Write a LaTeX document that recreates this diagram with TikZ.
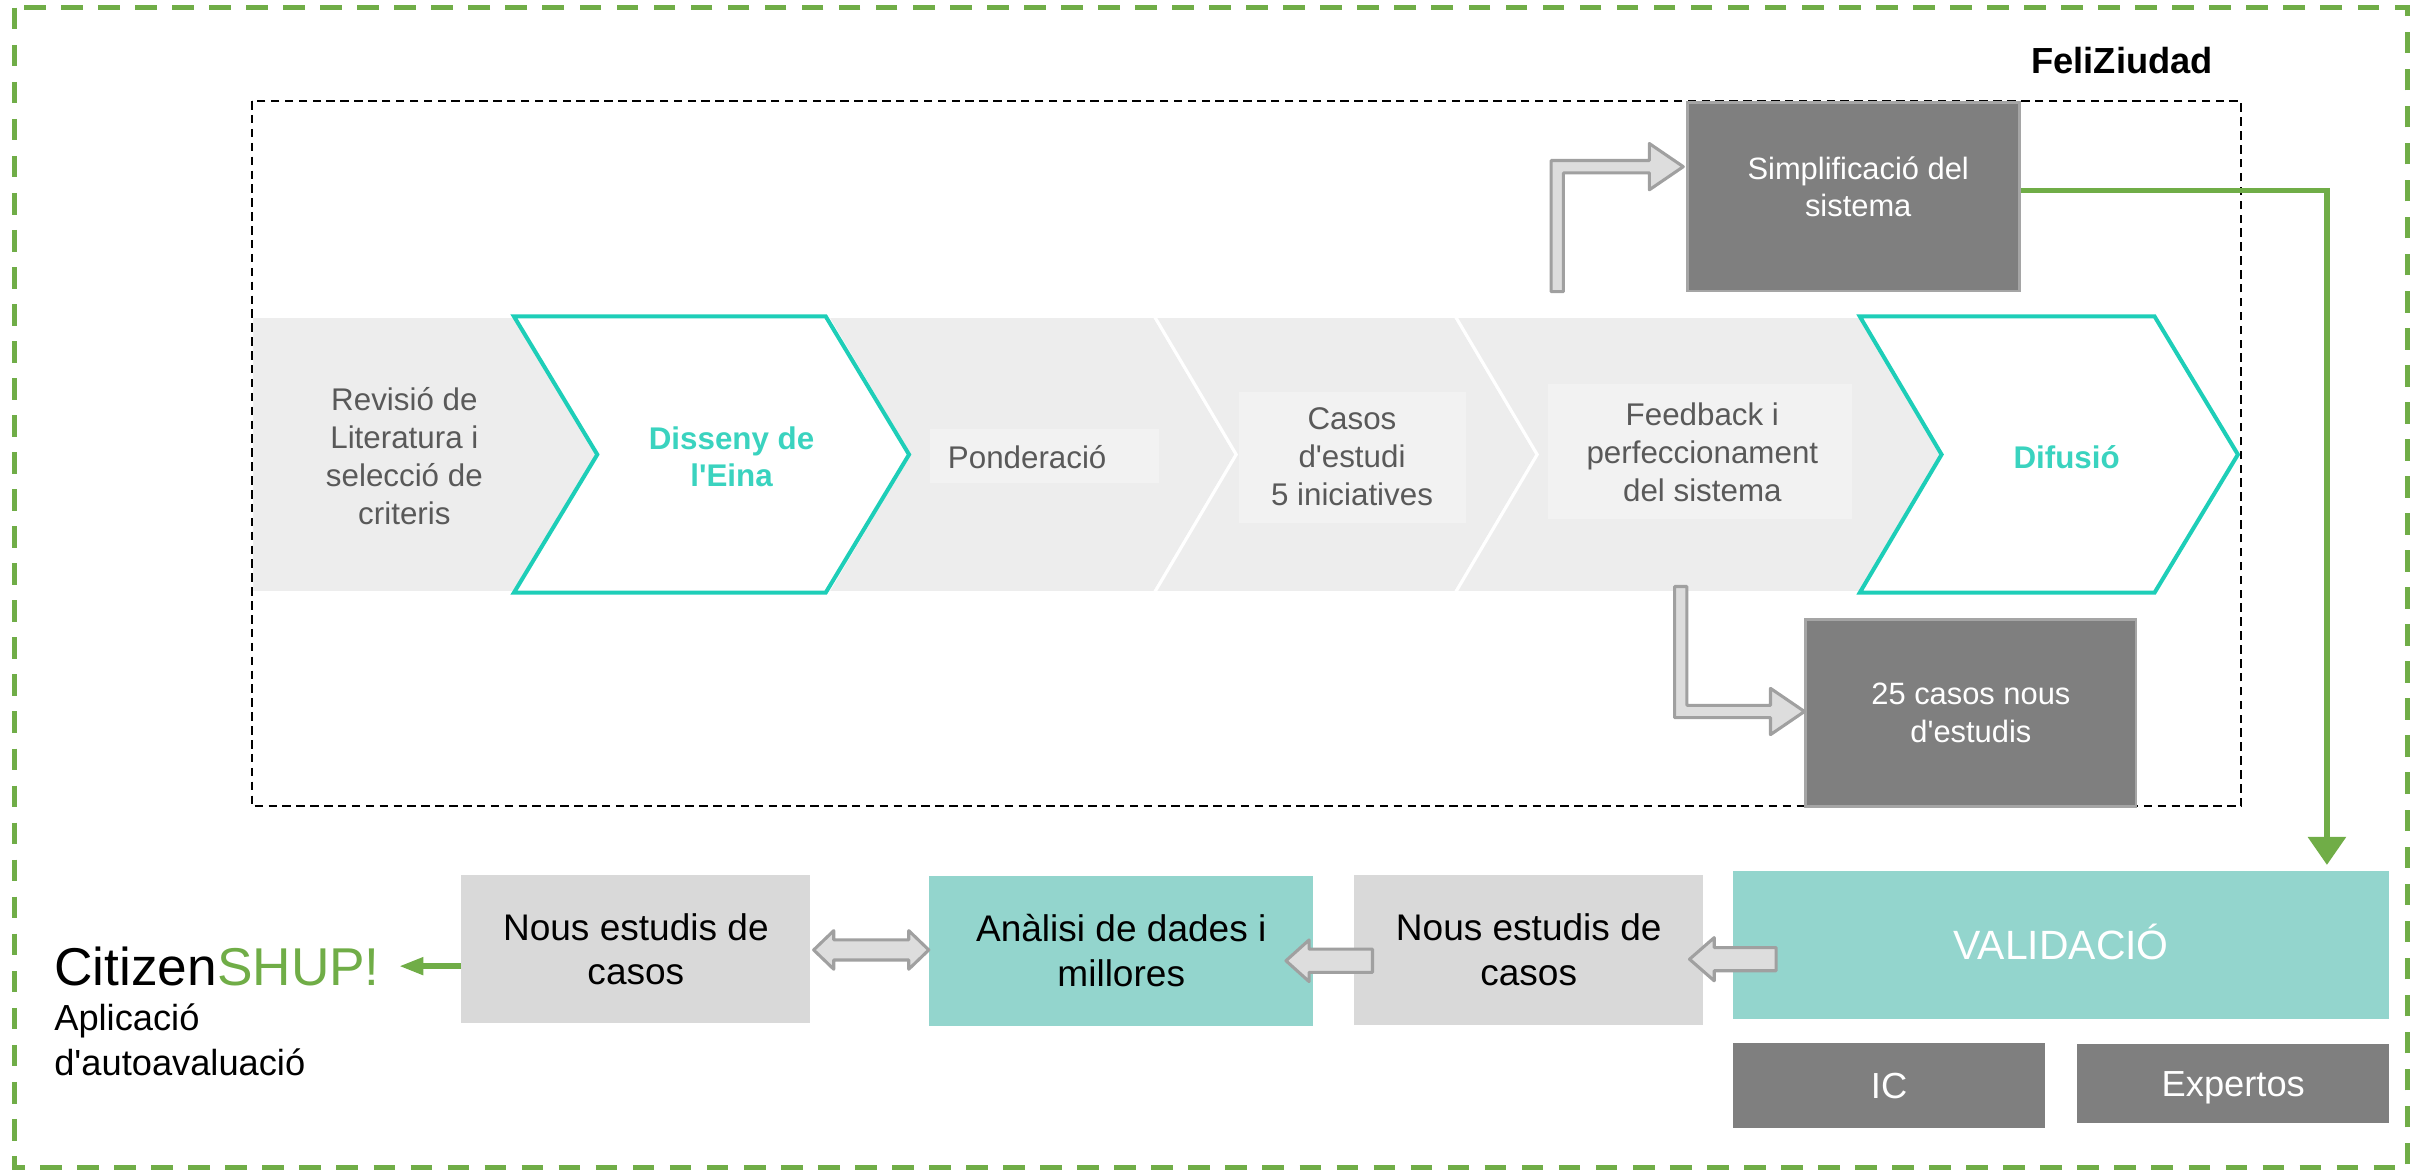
\documentclass[tikz,border=0pt]{standalone}
\usepackage{fontspec}
\setmainfont{Liberation Sans}[Ligatures=TeXOff]
\usetikzlibrary{calc,arrows.meta}
\definecolor{greenc}{RGB}{112,173,71}
\definecolor{tealline}{RGB}{30,206,184}
\definecolor{tealtext}{RGB}{58,211,191}
\definecolor{tealfill}{RGB}{147,213,205}
\definecolor{darkfill}{RGB}{127,127,127}
\definecolor{darkline}{RGB}{165,165,165}
\definecolor{lightfill}{RGB}{217,217,217}
\definecolor{chevfill}{RGB}{237,237,237}
\definecolor{chevinner}{RGB}{242,242,242}
\definecolor{chevtext}{RGB}{89,89,89}
\definecolor{hollowfill}{RGB}{221,221,221}
\definecolor{hollowline}{RGB}{160,160,160}
\begin{document}
\begin{tikzpicture}[x=1pt,y=-1pt,
  outerframe/.style={draw=greenc, line width=3pt, dash pattern=on 14pt off 10pt},
  innerframe/.style={draw=black, line width=1.3pt, dash pattern=on 5.5pt off 3.5pt},
  chevgray/.style={fill=chevfill, draw=white, line width=2pt, line join=miter},
  chevteal/.style={fill=white, draw=tealline, line width=2.6pt, line join=miter},
  innerbox/.style={fill=chevinner, draw=none},
  chevlabel/.style={text=chevtext, font=\fontsize{20.3}{24.5}\selectfont, align=center, inner sep=0pt},
  teallabel/.style={text=tealtext, font=\bfseries\fontsize{20.3}{24.5}\selectfont, align=center, inner sep=0pt},
  darkbox/.style={fill=darkfill, draw=darkline, line width=1.7pt, text=white, font=\fontsize{20}{24.5}\selectfont, align=center, inner sep=0pt},
  whitetext/.style={text=white, font=\fontsize{20}{24.5}\selectfont, align=center, inner sep=0pt},
  graybox/.style={fill=lightfill, draw=none, text=black, font=\fontsize{24}{29}\selectfont, align=center, inner sep=0pt},
  tealrect/.style={fill=tealfill, draw=none, text=black, font=\fontsize{24}{29}\selectfont, align=center, inner sep=0pt},
  valrect/.style={fill=tealfill, draw=none, text=white, font=\fontsize{26.5}{30}\selectfont, inner sep=0pt, text height=19pt, text depth=0pt},
  solidgray/.style={fill=darkfill, draw=none, text=white, font=\fontsize{23.5}{28}\selectfont, inner sep=0pt, text height=16.8pt, text depth=0pt},
  hollow/.style={fill=hollowfill, draw=hollowline, line width=2pt, line join=round},
  gline/.style={draw=greenc, line width=3.5pt},
]
\useasboundingbox (0,0) rectangle (1568,759);
\draw[outerframe] (9.5,5) rectangle (1560,756.5);

% gray chevrons
\draw[chevgray] (163,205) -- (333,205) -- (387,294.5) -- (333,384) -- (163,384) -- cycle;
\draw[chevgray] (536,205) -- (748,205) -- (801,294.5) -- (748,384) -- (536,384) -- (589,294.5) -- cycle;
\draw[chevgray] (748,205) -- (943,205) -- (996,294.5) -- (943,384) -- (748,384) -- (801,294.5) -- cycle;
\draw[chevgray] (943,205) -- (1205,205) -- (1258,294.5) -- (1205,384) -- (943,384) -- (996,294.5) -- cycle;
\fill[innerbox] (602.5,278) rectangle (751,313);
\fill[innerbox] (803,254) rectangle (950,339);
\fill[innerbox] (1003,249) rectangle (1200,336);
% highlighted chevrons
\draw[chevteal] (333,205) -- (535,205) -- (589,294.5) -- (535,384) -- (333,384) -- (387,294.5) -- cycle;
\draw[chevteal] (1205,205) -- (1396,205) -- (1450,294.5) -- (1396,384) -- (1205,384) -- (1258,294.5) -- cycle;

\draw[innerframe] (163,65.5) rectangle (1452,522.5);

% chevron labels
\node[chevlabel] (t1) at (262,295.5) {Revisió de\\Literatura i\\selecció de\\criteris};
\node[teallabel] (t2) at (474,296) {Disseny de\\l'Eina};
\node[chevlabel, anchor=west, text height=14.6pt, text depth=0pt] (t3) at (614,296) {Ponderació};
\node[chevlabel] (t4) at (876,296) {Casos\\d'estudi\\5 iniciatives};
\node[chevlabel] (t5) at (1103,293) {Feedback i\\perfeccionament\\del sistema};
\node[teallabel, text height=14.6pt, text depth=0pt] (t6) at (1339,296) {Difusió};

\node[font=\bfseries\fontsize{23.5}{28}\selectfont, inner sep=0pt] (title) at (1375,39) {FeliZiudad};

% dark boxes
\node[darkbox, minimum width=215pt, minimum height=122pt] (simp) at (1201,127.5) {};
\node[whitetext] (simpt) at (1204,121) {Simplificació del\\sistema};
\node[darkbox, minimum width=214pt, minimum height=121pt] (cas25) at (1277,462) {25 casos nous\\d'estudis};

% bottom row
\node[valrect, minimum width=425pt, minimum height=96pt] (valid) at (1335.5,612.5) {VALIDACIÓ};
\node[solidgray, minimum width=202pt, minimum height=55pt] (ic) at (1224,703.5) {IC};
\node[solidgray, minimum width=202pt, minimum height=51pt] (exp) at (1447,702) {Expertos};
\node[graybox, minimum width=226pt, minimum height=97pt] (nous2) at (990.5,615.5) {Nous estudis de\\casos};
\node[tealrect, minimum width=249pt, minimum height=97pt] (anal) at (726.5,616) {Anàlisi de dades i\\millores};
\node[graybox, minimum width=226pt, minimum height=96pt] (nous1) at (412,615) {Nous estudis de\\casos};

\node[anchor=west, inner sep=0pt, font=\fontsize{34.5}{39}\selectfont] (citizen) at (35,626) {Citizen\textcolor{greenc}{SHUP!}};
\node[anchor=west, inner sep=0pt, align=left, font=\fontsize{23.5}{29}\selectfont] (app) at (35,673.5) {Aplicació\\d'autoavaluació};

% green connectors
\draw[gline, -{Triangle[length=18pt,width=25pt,line width=0pt]}] ($(simp.east)+(0,-4)$) -| ($(valid.north east)+(-40.5,-4)$);
\draw[gline, -{Triangle[length=15pt,width=12pt,line width=0pt]}] (nous1.west |- citizen.east) -- ($(citizen.east)+(13,0)$);

% upper bent hollow arrow
\coordinate (dS) at (1009,189);
\coordinate (dT) at ($(simp.west)+(-2,-19.5)$);
\draw[hollow] ($(dS)+(-4,0)$) -- ($(dS |- dT)+(-4,-4)$) -- ($(dT)+(-22,-4)$) -- ++(0,-11) -- (dT)
  -- ($(dT)+(-22,15)$) -- ++(0,-11) -- ($(dS |- dT)+(4,4)$) -- ($(dS)+(4,0)$) -- cycle;

% lower bent hollow arrow
\coordinate (eS) at (1089,380);
\coordinate (eT) at ($(cas25.west)+(0,-1)$);
\draw[hollow] ($(eS)+(-4,0)$) -- ($(eS |- eT)+(-4,4)$) -- ($(eT)+(-22,4)$) -- ++(0,11) -- (eT)
  -- ($(eT)+(-22,-15)$) -- ++(0,11) -- ($(eS |- eT)+(4,-4)$) -- ($(eS)+(4,0)$) -- cycle;

% VALIDACIO -> nous2
\coordinate (aS) at ($(valid.west)+(28,9)$);
\coordinate (aT) at ($(aS -| nous2.east)+(-9,0)$);
\draw[hollow] (aT) -- ++(16,-14) -- ++(0,6.5) -- ($(aS)+(0,-7.5)$) -- ($(aS)+(0,7.5)$)
  -- ($(aT)+(16,7.5)$) -- ++(0,6.5) -- cycle;

% nous2 -> anal
\coordinate (bS) at ($(nous2.west)+(12,7)$);
\coordinate (bT) at ($(bS -| anal.east)+(-18,0)$);
\draw[hollow] (bT) -- ++(15,-13.5) -- ++(0,6) -- ($(bS)+(0,-7.5)$) -- ($(bS)+(0,7.5)$)
  -- ($(bT)+(15,7.5)$) -- ++(0,6) -- cycle;

% nous1 <-> anal
\coordinate (cL) at ($(nous1.east)+(2,0.5)$);
\coordinate (cR) at (cL -| anal.west);
\draw[hollow] (cL) -- ++(13,-12.5) -- ++(0,6) -- ($(cR)+(-13,-6.5)$) -- ++(0,-6) -- (cR)
  -- ++(-13,12.5) -- ++(0,-6) -- ($(cL)+(13,6.5)$) -- ++(0,6) -- cycle;
\end{tikzpicture}
\end{document}
